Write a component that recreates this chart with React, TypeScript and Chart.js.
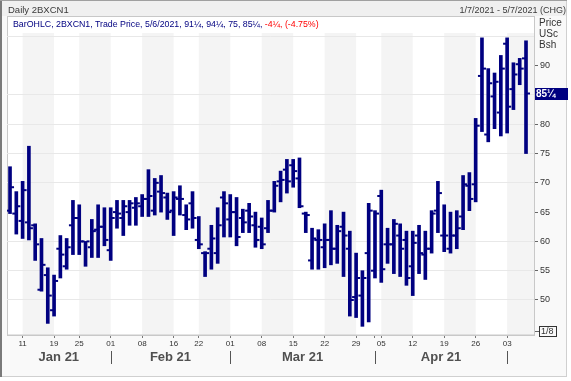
import React, { useEffect, useRef } from 'react';
import { Chart, registerables } from 'chart.js';

Chart.register(...registerables);

// ---- data (trading days 7 Jan 2021 .. 6 May 2021) ----
const opens = [
  65.25, 64.75, 63.5, 63.25, 62.75, 51.75, 54.25, 48.25, 58.75, 55.75,
  62.75, 64, 60, 59, 62, 62.5, 58.5, 65, 64, 65,
  65.75, 66, 67.25, 65.25, 68.5, 67.5, 65.25, 67.25, 64.5, 66.5,
  60.25, 58, 58.75, 58, 67.5, 63.75, 65, 64, 65.25, 62.75,
  62.5, 62.25, 65.25, 70.25, 72.25, 73, 70.75, 64.75, 56.75, 60.25,
  59, 60.25, 58.75, 62.5, 58.75, 50.5, 50.75, 58, 55, 67.75,
  59.5, 59.5, 61, 60.25, 55.75, 61, 57.75, 58.75, 65.25, 61,
  58.75, 61, 64.25, 69.5, 69.75, 88.25, 78.25, 84.75, 82, 93.75,
  86, 90.25, 91.25,
];
const highs = [
  72.75, 68.5, 70.25, 76.25, 63, 60.5, 55.5, 54.25, 61, 60.5,
  67, 66.25, 60, 63.75, 66.25, 65.75, 65.75, 67, 67, 67,
  67.5, 68, 72.25, 70.75, 71.25, 68.25, 68.5, 69.5, 66.25, 68.5,
  64.25, 58.25, 62.75, 65.75, 68.5, 68, 67.5, 65.5, 66.5, 65,
  64, 67, 70.25, 72, 74, 74, 74.25, 65, 62.25, 62,
  63, 65.25, 62.75, 65, 61.75, 58, 55, 66.5, 65.25, 68.75,
  62.25, 63.75, 63, 61.75, 61.75, 62.75, 61.75, 65.25, 70.25, 66.25,
  65, 65.25, 71.25, 71.75, 81, 94.75, 89.5, 88.75, 91.75, 94.75,
  90.5, 91.25, 94.25,
];
const lows = [
  64.75, 61.25, 60.5, 60.25, 56.75, 51.5, 46, 47.25, 53.75, 55.25,
  57.75, 57.75, 55.75, 57.25, 57.25, 59.25, 56.75, 62.25, 61, 62.75,
  62.75, 64.25, 64.25, 64.5, 65, 63.75, 61, 64.5, 62, 62.25,
  58.75, 54, 55.25, 56.25, 60.75, 60.75, 59.25, 61.5, 61.5, 59,
  58.75, 61.5, 65, 66.75, 68.25, 69.25, 65.75, 61.5, 55.25, 55.25,
  55.5, 56, 56.25, 54, 47.25, 47, 45.5, 46.25, 53.75, 53,
  56.25, 54.5, 54, 52.5, 50.75, 54.5, 53.5, 58, 61.5, 58.25,
  58, 58.75, 62, 65.25, 66.75, 78.75, 77, 79.25, 78, 78.5,
  82.5, 86.75, 75,
];
const closes = [
  69.25, 66, 68.75, 62.25, 59.5, 56, 50.75, 53.25, 57.75, 59,
  64, 60, 60, 61.75, 62.5, 60.25, 64, 64.75, 66, 66.5,
  66.5, 67.25, 67.75, 70, 68.25, 65, 67.5, 67.25, 63.75, 64,
  59.5, 58, 60.5, 62.75, 66.5, 65, 60.75, 63.25, 64.25, 60.25,
  59.5, 65.25, 69.5, 70.5, 70.25, 72, 66, 64.5, 60.5, 60.25,
  60.25, 58.75, 61.75, 61, 50, 53.75, 53.75, 65.25, 64.75, 55.25,
  59.5, 63, 58.75, 53.75, 59.75, 58, 58.75, 64.75, 68.25, 61,
  61, 62.25, 69.75, 67.25, 79.75, 89.5, 87, 87.25, 89.5, 83,
  88.5, 89.5, 85.25,
];

// x-axis day ticks (bar index -> label)
const dayTickIndex = [2, 7, 11, 16, 21, 26, 30, 35, 40, 45, 50, 55, 58, 59, 64, 69, 74, 79];
const dayTickLabels = ['11', '19', '25', '01', '08', '16', '22', '01', '08', '15', '22', '29', '', '05', '12', '19', '26', '03'];
// months
const monthLabels = ['Jan 21', 'Feb 21', 'Mar 21', 'Apr 21'];
const monthStartIndex = [16, 35, 58, 79];
// alternating weekly shading (bar index ranges)
const bandFrom = [2, 11, 21, 30, 40, 50, 59, 69, 79];
const bandTo = [7, 16, 26, 35, 45, 55, 64, 74, null];
// price axis
const priceTicks = [50, 55, 60, 65, 70, 75, 80, 85, 90, 95];
const unlabeledTicks = [85, 95];
const gridlessTicks = [65, 90];
const lastDate = '5/6/2021';
const rangeText = '1/7/2021 - 5/7/2021 (CHG)';

// ---- layout / style constants ----
const NAVY = '#000080';
const X_MIN = -0.48;
const X_MAX = 83.27;
const Y_MIN = 44.02;
const Y_MAX = 95.58;
const TICK_OFF = 0.4;
const PANEL_TOP = 16.5;
const FONT = '"Liberation Sans", Arial, sans-serif';

function frac(v: number): string {
  const neg = v < 0;
  const a = Math.abs(v);
  const w = Math.floor(a + 1e-9);
  const f = Math.round((a - w) * 4);
  const fs = ['', '\u00BC', '\u00BD', '\u00BE'][f] || '';
  return (neg ? '-' : '') + String(w) + fs;
}

const n = closes.length;
const lastO = opens[n - 1];
const lastH = highs[n - 1];
const lastL = lows[n - 1];
const lastC = closes[n - 1];
const chg = lastC - closes[n - 2];
const pct = (chg / closes[n - 2]) * 100;

const decor = {
  id: 'decor',
  beforeDraw(chart: any) {
    const { ctx, chartArea, scales } = chart;
    const xs = scales.x;
    ctx.save();
    ctx.fillStyle = '#ffffff';
    ctx.fillRect(0, 0, chart.width, chart.height);
    ctx.fillStyle = '#f9f9f9';
    ctx.fillRect(0, 0, 567, 377);
    ctx.fillStyle = '#f0f0f0';
    ctx.fillRect(0, 0, 567, 16);
    // plot panel
    ctx.fillStyle = '#ffffff';
    ctx.fillRect(chartArea.left, PANEL_TOP, chartArea.right - chartArea.left, chartArea.bottom - PANEL_TOP);
    // weekly bands
    ctx.fillStyle = '#f4f4f4';
    for (let k = 0; k < bandFrom.length; k++) {
      const x0 = xs.getPixelForValue(bandFrom[k]);
      const to = bandTo[k];
      const x1 = to == null ? chartArea.right : xs.getPixelForValue(to);
      ctx.fillRect(x0, chartArea.top, x1 - x0, chartArea.bottom - chartArea.top);
    }
    // panel border
    ctx.strokeStyle = '#c8c8c8';
    ctx.lineWidth = 1;
    ctx.strokeRect(chartArea.left + 0.5, PANEL_TOP, chartArea.right - chartArea.left, chartArea.bottom - PANEL_TOP);
    // outer frame
    ctx.strokeStyle = '#d0d0d0';
    ctx.strokeRect(0.5, 0.5, 566, 376);
    ctx.fillStyle = '#7a7a7a';
    ctx.fillRect(0, 0, 2, 377);
    ctx.fillStyle = '#a0a0a0';
    ctx.fillRect(0, 0, 567, 1);
    ctx.restore();
  },
  afterDraw(chart: any) {
    const { ctx, chartArea, scales } = chart;
    const xs = scales.x;
    const xm = scales.xm;
    const ys = scales.y;
    ctx.save();
    // month separators
    ctx.strokeStyle = '#555555';
    ctx.lineWidth = 1;
    for (const idx of monthStartIndex) {
      const px = Math.round(xs.getPixelForValue(idx)) + 0.5;
      ctx.beginPath();
      ctx.moveTo(px, xm.top + 2);
      ctx.lineTo(px, xm.top + 15);
      ctx.stroke();
    }
    // last price marker
    const py = ys.getPixelForValue(lastC);
    ctx.fillStyle = NAVY;
    ctx.fillRect(chartArea.right + 1, Math.round(py) - 6, 33, 12);
    ctx.fillStyle = '#ffffff';
    ctx.font = 'bold 10px ' + FONT;
    ctx.textBaseline = 'middle';
    ctx.textAlign = 'left';
    ctx.fillText(frac(lastC), chartArea.right + 2, Math.round(py) + 0.5);
    // tick size box
    const by = chartArea.bottom - 4;
    ctx.strokeStyle = '#666666';
    ctx.beginPath();
    ctx.moveTo(chartArea.right + 1, Math.round(by) + 0.5);
    ctx.lineTo(chartArea.right + 5, Math.round(by) + 0.5);
    ctx.stroke();
    ctx.strokeStyle = '#333333';
    ctx.strokeRect(chartArea.right + 5.5, Math.round(by) - 4.5, 17, 10);
    ctx.fillStyle = '#333333';
    ctx.font = '9px ' + FONT;
    ctx.fillText('1/8', chartArea.right + 7, Math.round(by) + 1);
    ctx.restore();
  },
};

export default function App() {
  const ref = useRef<HTMLCanvasElement>(null);

  useEffect(() => {
    const canvas = ref.current;
    if (!canvas) return;
    const monthCenters = monthLabels.map((_, k) => {
      const a = k === 0 ? X_MIN : monthStartIndex[k - 1];
      const b = monthStartIndex[k];
      return (a + b) / 2;
    });

    const chart = new Chart(canvas, {
      type: 'bar',
      data: {
        datasets: [
          {
            type: 'bar',
            data: lows.map((l, i) => ({ x: i, y: [l, highs[i]] })) as any,
            backgroundColor: NAVY,
            borderWidth: 0,
            barThickness: 3,
            xAxisID: 'x',
            yAxisID: 'y',
          } as any,
          {
            type: 'scatter',
            data: opens.map((o, i) => ({ x: i - TICK_OFF, y: o })),
            pointStyle: 'line',
            pointRadius: 1.5,
            pointHoverRadius: 1.5,
            pointBorderWidth: 2,
            pointBorderColor: NAVY,
            pointBackgroundColor: NAVY,
            xAxisID: 'x',
            yAxisID: 'y',
          } as any,
          {
            type: 'scatter',
            data: closes.map((c, i) => ({ x: i + TICK_OFF, y: c })),
            pointStyle: 'line',
            pointRadius: 1.5,
            pointHoverRadius: 1.5,
            pointBorderWidth: 2,
            pointBorderColor: NAVY,
            pointBackgroundColor: NAVY,
            xAxisID: 'x',
            yAxisID: 'y',
          } as any,
        ],
      },
      options: {
        responsive: false,
        animation: false,
        events: [],
        devicePixelRatio: 1,
        layout: { padding: { left: 7, top: 33, right: 0, bottom: 12 } },
        plugins: { legend: { display: false }, tooltip: { enabled: false }, title: { display: false } },
        scales: {
          x: {
            type: 'linear',
            position: 'bottom',
            min: X_MIN,
            max: X_MAX,
            offset: false,
            weight: 0,
            grid: { display: true, drawOnChartArea: false, drawTicks: true, tickLength: 3, color: '#777777', offset: false },
            border: { display: true, color: '#c8c8c8' },
            afterBuildTicks: (s: any) => {
              s.ticks = dayTickIndex.map((v) => ({ value: v }));
            },
            afterFit: (s: any) => {
              s.height = 14;
            },
            ticks: {
              autoSkip: false,
              maxRotation: 0,
              minRotation: 0,
              padding: 1,
              color: '#333333',
              font: { family: FONT, size: 8 },
              callback: (_v: any, i: number) => dayTickLabels[i],
            },
          },
          xm: {
            type: 'linear',
            position: 'bottom',
            min: X_MIN,
            max: X_MAX,
            offset: false,
            weight: 1,
            grid: { display: false, drawTicks: false, drawOnChartArea: false },
            border: { display: false },
            afterBuildTicks: (s: any) => {
              s.ticks = monthCenters.map((v) => ({ value: v }));
            },
            afterFit: (s: any) => {
              s.height = 20;
            },
            ticks: {
              autoSkip: false,
              maxRotation: 0,
              minRotation: 0,
              padding: 1,
              color: '#505050',
              font: { family: FONT, size: 13, weight: 'bold' },
              callback: (_v: any, i: number) => monthLabels[i],
            },
          },
          y: {
            type: 'linear',
            position: 'right',
            min: Y_MIN,
            max: Y_MAX,
            beginAtZero: false,
            grid: {
              drawOnChartArea: true,
              drawTicks: true,
              tickLength: 4,
              color: (c: any) => (c.tick && gridlessTicks.includes(c.tick.value) ? 'rgba(0,0,0,0)' : '#e8e8e8'),
              tickColor: (c: any) => (c.tick && unlabeledTicks.includes(c.tick.value) ? 'rgba(0,0,0,0)' : '#666666'),
            },
            border: { display: true, color: '#c8c8c8' },
            afterBuildTicks: (s: any) => {
              s.ticks = priceTicks.map((v) => ({ value: v }));
            },
            afterFit: (s: any) => {
              s.width = 37;
            },
            ticks: {
              autoSkip: false,
              padding: 2,
              color: '#333333',
              font: { family: FONT, size: 9 },
              callback: (v: any) => (unlabeledTicks.includes(Number(v)) ? '' : String(v)),
            },
          },
        },
      } as any,
      plugins: [decor],
    });
    return () => chart.destroy();
  }, []);

  const txt: React.CSSProperties = {
    position: 'absolute',
    whiteSpace: 'nowrap',
    lineHeight: '12px',
    fontFamily: FONT,
  };

  return (
    <div style={{ position: 'absolute', left: 0, top: 0, width: 571, height: 381, overflow: 'hidden' }}>
      <canvas ref={ref} width={571} height={381} style={{ position: 'absolute', left: 0, top: 0, width: 571, height: 381 }} />
      <div style={{ ...txt, left: 8, top: 4, fontSize: 9.5, color: '#3a3a3a' }}>Daily 2BXCN1</div>
      <div style={{ ...txt, right: 5, top: 4, fontSize: 9, color: '#3a3a3a' }}>{rangeText}</div>
      <div style={{ ...txt, left: 13, top: 18, fontSize: 8.8, color: NAVY }}>
        {`BarOHLC, 2BXCN1, Trade Price, ${lastDate}, ${frac(lastO)}, ${frac(lastH)}, ${frac(lastL)}, ${frac(lastC)}, `}
        <span style={{ color: '#ff0000' }}>{`${frac(chg)}, (${pct.toFixed(2)}%)`}</span>
      </div>
      <div style={{ ...txt, left: 539, top: 16.5, fontSize: 10, color: '#333333' }}>Price</div>
      <div style={{ ...txt, left: 539, top: 27.5, fontSize: 10, color: '#333333' }}>USc</div>
      <div style={{ ...txt, left: 539, top: 39, fontSize: 10, color: '#333333' }}>Bsh</div>
    </div>
  );
}
